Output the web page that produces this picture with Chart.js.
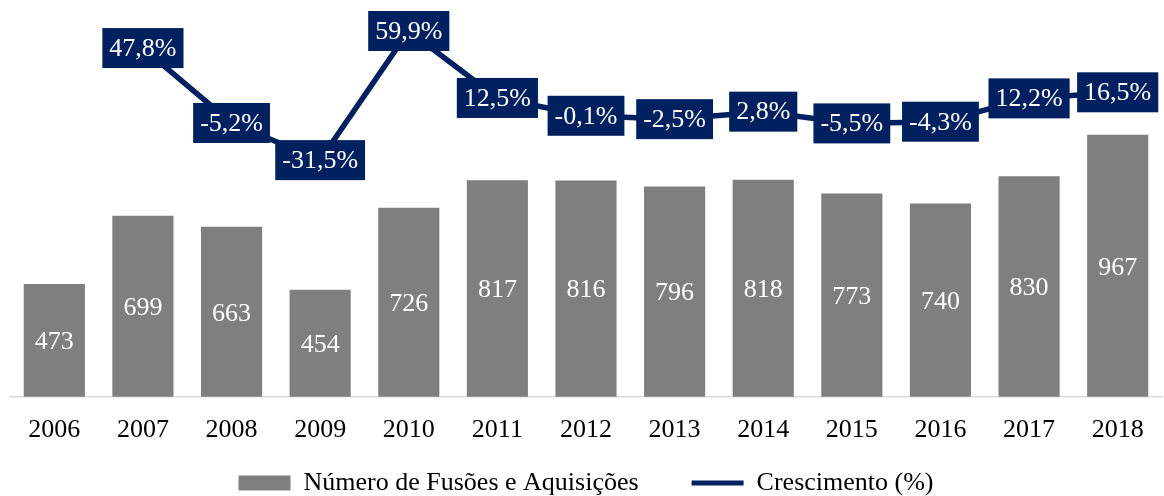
<!DOCTYPE html>
<html>
<head>
<meta charset="utf-8">
<script src="https://cdn.jsdelivr.net/npm/chart.js@4"></script>
<style>
  html, body { margin: 0; padding: 0; background: #fff; }
  #wrap { width: 1164px; height: 496px; }
</style>
</head>
<body>
<div id="wrap"><canvas id="chart" width="1164" height="496"></canvas></div>
<script>
// chart data
const years = ['2006', '2007', '2008', '2009', '2010', '2011', '2012', '2013', '2014', '2015', '2016', '2017', '2018'];
const deals = [473, 699, 663, 454, 726, 817, 816, 796, 818, 773, 740, 830, 967];
const growth = [null, 47.8, -5.2, -31.5, 59.9, 12.5, -0.1, -2.5, 2.8, -5.5, -4.3, 12.2, 16.5];

const NAVY = '#002060';
const GREY = '#7f7f7f';
const FONT = "'Liberation Serif', 'Times New Roman', serif";

Chart.defaults.font.family = FONT;
Chart.defaults.color = '#000';

// draws the value labels (no datalabels plugin available offline)
const valueLabels = {
  id: 'valueLabels',
  afterDatasetsDraw(chart) {
    const ctx = chart.ctx;
    const bottom = chart.chartArea.bottom;
    ctx.save();
    ctx.font = '26px ' + FONT;
    ctx.textAlign = 'center';
    ctx.textBaseline = 'middle';

    // bar labels, centered in the visible part of the bar
    chart.getDatasetMeta(0).data.forEach((bar, i) => {
      const p = bar.getProps(['x', 'y', 'base'], true);
      const base = Math.min(p.base, bottom);
      ctx.fillStyle = '#fff';
      ctx.fillText(String(deals[i]), p.x, (p.y + base) / 2 + 2);
    });

    // growth labels in navy boxes
    chart.getDatasetMeta(1).data.forEach((pt, i) => {
      if (growth[i] === null) return;
      const txt = growth[i].toFixed(1).replace('.', ',') + '%';
      const w = ctx.measureText(txt).width + 14;
      const h = 40;
      ctx.fillStyle = NAVY;
      ctx.fillRect(pt.x - w / 2, pt.y - h / 2, w, h);
      ctx.fillStyle = '#fff';
      ctx.fillText(txt, pt.x, pt.y + 1);
    });
    ctx.restore();
  }
};

new Chart(document.getElementById('chart'), {
  data: {
    labels: years,
    datasets: [
      {
        type: 'bar',
        label: 'Número de Fusões e Aquisições',
        data: deals,
        backgroundColor: GREY,
        borderWidth: 0,
        barPercentage: 0.69,
        categoryPercentage: 1,
        yAxisID: 'y',
        order: 1
      },
      {
        type: 'line',
        label: 'Crescimento (%)',
        data: growth,
        borderColor: NAVY,
        backgroundColor: NAVY,
        borderWidth: 5.5,
        pointRadius: 0,
        tension: 0,
        spanGaps: false,
        yAxisID: 'y1',
        order: 0
      }
    ]
  },
  options: {
    responsive: false,
    animation: false,
    layout: { padding: { left: 10, right: 2, top: 4, bottom: -10 } },
    plugins: {
      tooltip: { enabled: false },
      legend: {
        position: 'bottom',
        labels: {
          usePointStyle: true,
          pointStyleWidth: 52,
          boxHeight: 15,
          padding: 14,
          font: { size: 26 },
          color: '#000',
          sort: (a, b) => a.datasetIndex - b.datasetIndex,
          generateLabels(chart) {
            const items = Chart.defaults.plugins.legend.labels.generateLabels(chart);
            items.forEach(it => {
              it.pointStyle = it.datasetIndex === 0 ? 'rect' : 'line';
              it.lineWidth = it.datasetIndex === 0 ? 0 : 5;
              // extra room after the first entry, like the original
              if (it.datasetIndex === 0) it.text += '\u00a0\u00a0\u00a0\u00a0\u00a0\u00a0';
            });
            return items;
          }
        }
      }
    },
    scales: {
      x: {
        grid: { display: false },
        border: { display: true, color: '#d9d9d9', width: 1.5 },
        ticks: { font: { size: 26 }, color: '#000', padding: 10 }
      },
      y: {
        display: false,
        min: 100,
        max: 1400
      },
      y1: {
        display: false,
        position: 'right',
        min: -199,
        max: 79
      }
    }
  },
  plugins: [valueLabels]
});
</script>
</body>
</html>
